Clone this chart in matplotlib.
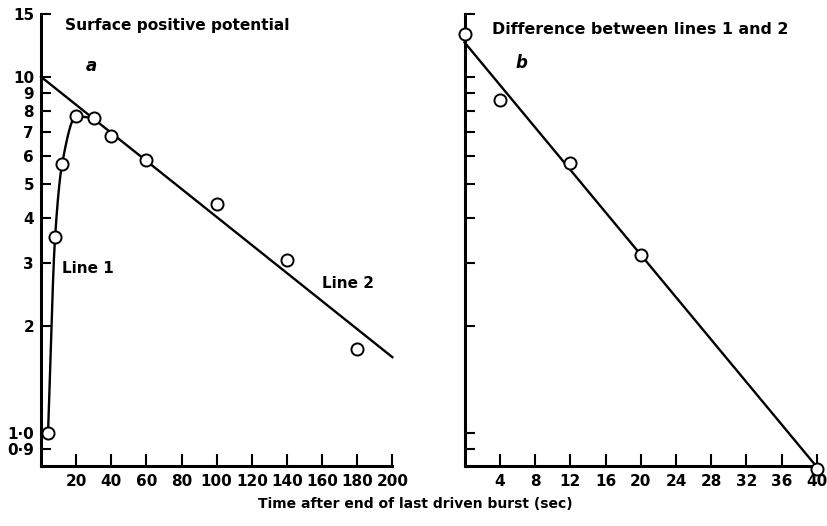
import numpy as np
import matplotlib
matplotlib.use("Agg")
import matplotlib.pyplot as plt
from matplotlib.ticker import FixedLocator, FixedFormatter, NullLocator

plt.rcParams['font.family'] = ['DejaVu Sans']
plt.rcParams['font.weight'] = 'bold'

# Panel a: surface positive potential (log scale)
a_x = [4, 8, 12, 20, 30, 40, 60, 100, 140, 180]
a_y = [1.0, 3.54, 5.69, 7.74, 7.66, 6.82, 5.84, 4.38, 3.05, 1.72]
# Line 1 drawn smoothly through the early points
line1_x = [4, 8, 12, 20, 30]
line1_y = [1.0, 3.54, 5.69, 7.74, 7.66]
# Line 2: straight fit on log scale
line2_x = [0, 200]
line2_y = [10.0, 1.63]

# Panel b: difference between lines 1 and 2
b_x = [0, 4, 12, 20, 40]
b_y = [13.2, 8.6, 5.74, 3.16, 0.79]
bfit_x = [0, 40]
bfit_y = [12.5, 0.8]

y_ticks = [15, 10, 9, 8, 7, 6, 5, 4, 3, 2, 1.0, 0.9]
y_labels = ['15', '10', '9', '8', '7', '6', '5', '4', '3', '2', '1·0', '0·9']
a_xticks = [20, 40, 60, 80, 100, 120, 140, 160, 180, 200]
b_xticks = [4, 8, 12, 16, 20, 24, 28, 32, 36, 40]


def pchip(x, y, xs):
    # simple monotone cubic (Fritsch-Carlson) interpolation
    x = np.asarray(x, float)
    y = np.asarray(y, float)
    h = np.diff(x)
    d = np.diff(y) / h
    m = np.zeros_like(y)
    m[0], m[-1] = d[0], d[-1]
    for i in range(1, len(x) - 1):
        if d[i - 1] * d[i] > 0:
            w1 = 2 * h[i] + h[i - 1]
            w2 = h[i] + 2 * h[i - 1]
            m[i] = (w1 + w2) / (w1 / d[i - 1] + w2 / d[i])
    out = np.empty_like(xs)
    for j, t in enumerate(xs):
        k = min(np.searchsorted(x, t, side='right') - 1, len(x) - 2)
        s = (t - x[k]) / h[k]
        h00 = 2 * s**3 - 3 * s**2 + 1
        h10 = s**3 - 2 * s**2 + s
        h01 = -2 * s**3 + 3 * s**2
        h11 = s**3 - s**2
        out[j] = h00 * y[k] + h10 * h[k] * m[k] + h01 * y[k + 1] + h11 * h[k] * m[k + 1]
    return out


fig = plt.figure(figsize=(8.27, 5.26), dpi=100)
ax_a = fig.add_axes([0.0496, 0.1141, 0.4248, 0.859])
ax_b = fig.add_axes([0.5617, 0.1141, 0.4262, 0.859])

lw = 1.7
mk = dict(marker='o', markersize=8.7, markerfacecolor='white', markeredgecolor='black',
          markeredgewidth=1.4, linestyle='none', zorder=5, clip_on=False)

# panel a
xs = np.linspace(line1_x[0], line1_x[-1], 300)
ax_a.plot(xs, 10 ** pchip(line1_x, np.log10(line1_y), xs), color='black', lw=lw)
ax_a.plot(line2_x, line2_y, color='black', lw=lw, clip_on=False)
ax_a.plot(a_x, a_y, **mk)
ax_a.set_xlim(0, 200)
ax_a.set_xticks(a_xticks)

ax_a.text(13.5, 13.9, 'Surface positive potential', fontsize=11.1, va='center')
ax_a.text(25.5, 10.7, 'a', fontsize=12, style='italic', va='center')
ax_a.text(12, 2.9, 'Line 1', fontsize=11, va='center')
ax_a.text(160, 2.63, 'Line 2', fontsize=11, va='center')

# panel b
ax_b.plot(bfit_x, bfit_y, color='black', lw=lw, clip_on=False)
ax_b.plot(b_x, b_y, **mk)
ax_b.set_xlim(0, 40)
ax_b.set_xticks(b_xticks)

ax_b.text(3.1, 13.6, 'Difference between lines 1 and 2', fontsize=11.4, va='center')
ax_b.text(5.8, 10.9, 'b', fontsize=12, style='italic', va='center')

for ax in (ax_a, ax_b):
    ax.set_yscale('log')
    ax.set_ylim(0.806, 15)
    ax.yaxis.set_major_locator(FixedLocator(y_ticks))
    ax.yaxis.set_minor_locator(NullLocator())
    ax.spines['top'].set_visible(False)
    ax.spines['right'].set_visible(False)
    ax.spines['left'].set_linewidth(2.2)
    ax.spines['bottom'].set_linewidth(2.2)
    ax.tick_params(axis='both', direction='in', width=1.5, labelsize=11)
    ax.tick_params(axis='x', length=8.5, pad=6)
    ax.tick_params(axis='y', length=7, pad=5)

ax_a.yaxis.set_major_formatter(FixedFormatter(y_labels))
ax_b.set_yticklabels([])

fig.text(0.502, 0.042, 'Time after end of last driven burst (sec)', fontsize=10,
         ha='center', va='center')

fig.savefig('out.png', dpi=100)
